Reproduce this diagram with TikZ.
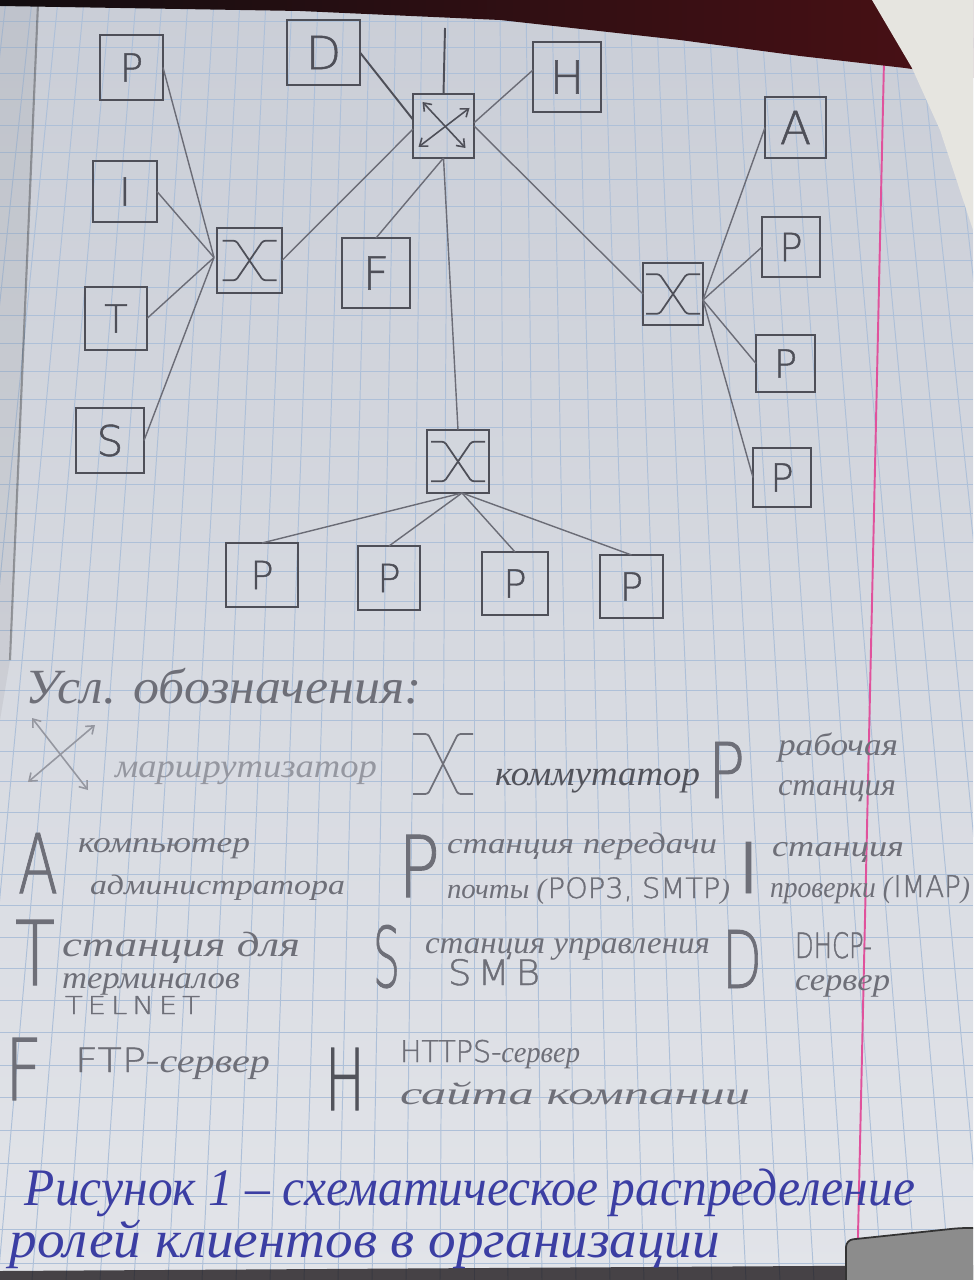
\documentclass[tikz,border=0pt]{standalone}
\usepackage{fontspec}
\usepackage{graphicx}
\setmainfont{Liberation Serif}
\newfontfamily\printfont[FakeBold=1.2]{DejaVu Sans ExtraLight}
\usetikzlibrary{calc,arrows.meta}

\newlength\px
\setlength\px{0.02cm}
% stretch a piece of text to a given width, keeping its height (px units)
\newcommand\fitx[2]{\resizebox{#1\px}{\height}{#2}}
% scale a piece of text to a given width and height (px units)
\newcommand\fitwh[3]{\resizebox{#1\px}{#2\px}{#3}}
\newcommand\ltr[1]{\printfont\fontsize{#1pt}{#1pt}\selectfont}
\newcommand\prt[1]{\textup{\printfont #1}}

\definecolor{paperTop}{HTML}{CACED7}
\definecolor{paperBot}{HTML}{E2E4E9}
\definecolor{gridc}{HTML}{AEC0D8}
\definecolor{marginc}{HTML}{E0529C}
\definecolor{pencil}{HTML}{4E4F58}
\definecolor{wirec}{HTML}{6B6C76}
\definecolor{legendc}{HTML}{6E6F78}
\definecolor{darkc}{HTML}{52535B}
\definecolor{faintc}{HTML}{9597A0}
\definecolor{inkc}{HTML}{3B3EA3}
\definecolor{deskc}{HTML}{120D10}
\definecolor{deskred}{HTML}{4A1015}
\definecolor{sheetc}{HTML}{E6E5E0}

\tikzset{
  gridline/.style={draw=gridc, line width=0.55pt},
  box/.style={draw=pencil, line width=1.25pt, inner sep=0pt, outer sep=0pt, text=pencil},
  sz/.style 2 args={minimum width=#1*0.02cm, minimum height=#2*0.02cm},
  wire/.style={draw=wirec, line width=0.8pt},
  strongwire/.style={draw=pencil, line width=1.1pt},
  fs/.style={font=\itshape\fontsize{#1pt}{#1pt}\selectfont},
  note/.style={inner sep=0pt, outer sep=0pt, anchor=base west, text=legendc, fs=#1},
  faint/.style={note=#1, text=faintc},
  dark/.style={note=#1, text=darkc},
  sym/.style={inner sep=0pt, outer sep=0pt, anchor=base west, text=legendc, font=\printfont},
  caption/.style={inner sep=0pt, outer sep=0pt, anchor=base west, text=inkc, fs=30},
  xsym/.pic={\draw[line width=1pt, rounded corners=1.5pt]
      (-30,-30) -- (-15,-30) -- (15,30) -- (30,30)
      (30,-30) -- (15,-30) -- (-15,30) -- (-30,30);},
  rarrow/.style={line width=0.9pt,
      {Straight Barb[length=4pt,width=6pt]}-{Straight Barb[length=4pt,width=6pt]}},
}

\begin{document}
\begin{tikzpicture}[x=0.02cm, y=-0.02cm]
\useasboundingbox (0,0) rectangle (973,1280);

% ---------- notebook page ----------
\begin{scope}
\clip (0,0) rectangle (973,1280);
\shade[top color=paperTop, bottom color=paperBot] (0,0) rectangle (973,1280);
% squared ruling
\foreach \k in {-3,...,46} {
  \pgfmathsetmacro\yy{47+4160*(exp(0.00625*\k)-1)}
  \draw[gridline] (0,\yy) -- (973,\yy);
}
\foreach \i in {-20,...,22} {
  \draw[gridline] ({474+26*\i},0) -- ({474+34*\i},1280);
}
% margin line
\draw[marginc, line width=1.1pt] (884,60) -- (857,1280);
% page beneath, on the left
\fill[black, opacity=0.05] (0,0) -- (38,0) -- (10,660) -- (0,720) -- cycle;
\draw[black, opacity=0.3, line width=1.2pt] (38,4) -- (10,660);
% desk at the top
\shade[left color=deskc, right color=deskred]
  (0,0) -- (973,0) -- (973,78) -- (905,68) -- (800,56) -- (680,40)
  -- (500,20) -- (300,11) -- (0,6) -- cycle;
% folded sheet in the corner
\fill[sheetc] (872,0) -- (973,0) -- (973,230) -- (940,130) -- (912,68) -- cycle;
% bottom edge and cover corner
\fill[deskc, opacity=0.75] (0,1271) -- (973,1265) -- (973,1280) -- (0,1280) -- cycle;
\draw[fill=black!45, draw=black!80, line width=1pt, rounded corners=4pt]
  (846,1240) -- (960,1228) -- (980,1228) -- (980,1290) -- (846,1290) -- cycle;
\end{scope}

% ---------- network ----------
\node[box, sz={63}{65}, font=\ltr{22}] (pa) at (131.5,67.5) {P};
\node[box, sz={64}{61}, font=\ltr{22}] (im) at (125,191.5) {I};
\node[box, sz={62}{63}, font=\ltr{22}] (te) at (116,318.5) {T};
\node[box, sz={68}{65}, font=\ltr{24}] (sm) at (110,440.5) {S};
\node[box, sz={65}{65}] (swl) at (249.5,260.5) {};
\node[box, sz={73}{65}, font=\ltr{26}] (dh) at (323.5,52.5) {D};
\node[box, sz={61}{64}] (rt) at (443.5,126) {};
\node[box, sz={68}{70}, font=\ltr{26}] (ht) at (567,77) {H};
\node[box, sz={68}{70}, font=\ltr{26}] (ft) at (376,273) {F};
\node[box, sz={60}{62}] (swr) at (673,294) {};
\node[box, sz={61}{61}, font=\ltr{26}] (ad) at (795.5,127.5) {A};
\node[box, sz={58}{60}, font=\ltr{22}] (pr1) at (791,247) {P};
\node[box, sz={59}{57}, font=\ltr{22}] (pr2) at (785.5,363.5) {P};
\node[box, sz={58}{59}, font=\ltr{22}] (pr3) at (782,477.5) {P};
\node[box, sz={62}{63}] (swb) at (458,461.5) {};
\node[box, sz={72}{64}, font=\ltr{22}] (pb1) at (262,575) {P};
\node[box, sz={62}{64}, font=\ltr{22}] (pb2) at (389,578) {P};
\node[box, sz={66}{63}, font=\ltr{22}] (pb3) at (515,583.5) {P};
\node[box, sz={63}{63}, font=\ltr{22}] (pb4) at (631.5,586.5) {P};

% switch marks and router arrows
\foreach \s in {swl,swr,swb}
  \pic[draw=pencil, xscale=0.9, yscale=0.66] at (\s) {xsym};
\draw[rarrow, draw=pencil] ($(rt.center)+(-21,-24)$) -- ($(rt.center)+(22,22)$);
\draw[rarrow, draw=pencil] ($(rt.center)+(26,-18)$) -- ($(rt.center)+(-25,21)$);

% links
\foreach \n in {pa,im,te,sm} \draw[wire] (\n.east) -- ($(swl.west)+(-3,-3)$);
\draw[wire] (swl.east) -- ($(rt.north west)!0.55!(rt.south west)$);
\draw[strongwire] (dh.east) -- ($(rt.north west)!0.4!(rt.south west)$);
\coordinate (uplink) at (445,28);
\draw[strongwire] (rt.north) -- (uplink);
\draw[wire] (ft.north) -- (rt.south);
\draw[wire] (rt.south) -- (swb.north);
\draw[wire] ($(rt.north east)!0.45!(rt.south east)$) -- ($(ht.north west)!0.4!(ht.south west)$);
\draw[wire] ($(rt.north east)!0.5!(rt.south east)$) -- (swr.west);
\foreach \n in {ad,pr1,pr2,pr3} \draw[wire] ($(swr.east)+(0,6)$) -- (\n.west);
\foreach \n in {pb1,pb2,pb3,pb4} \draw[wire] ($(swb.south)+(4,0)$) -- (\n.north);

% ---------- legend ----------
\node[note=28] (lt) at (25,703) {\fitx{397}{Усл. обозначения:}};

\draw[rarrow, draw=faintc] (32,718) -- (88,790);
\draw[rarrow, draw=faintc] (95,725) -- (28,782);
\node[faint=19] (l1) at (115,777) {\fitx{262}{маршрутизатор}};
\pic[draw=legendc] at (443,764) {xsym};
\node[dark=20] (l2) at (495,785) {\fitx{205}{коммутатор}};
\node[sym] (s1) at (708,798) {\fitwh{37}{56}{P}};
\node[note=18] (l3a) at (778,755) {\fitx{120}{рабочая}};
\node[note=18] (l3b) at (778,795) {\fitx{118}{станция}};

\node[sym] (s2) at (18,893) {\fitwh{40}{60}{A}};
\node[note=17] (l4a) at (78,852) {\fitx{172}{компьютер}};
\node[note=16] (l4b) at (90,894) {\fitx{255}{администратора}};
\node[sym] (s3) at (398,897) {\fitwh{42}{62}{P}};
\node[note=17] (l5a) at (447,853) {\fitx{270}{станция передачи}};
\node[note=16] (l5b) at (447,898) {\fitx{283}{почты (\prt{POP3, SMTP})}};
\node[sym] (s4) at (735,893) {\fitwh{27}{51}{I}};
\node[note=17] (l6a) at (772,856) {\fitx{132}{станция}};
\node[note=17] (l6b) at (770,897) {\fitx{200}{проверки (\prt{IMAP})}};

\node[sym] (s5) at (15,985) {\fitwh{40}{65}{T}};
\node[note=20] (l7a) at (62,956) {\fitx{238}{станция для}};
\node[note=18] (l7b) at (62,988) {\fitx{178}{терминалов}};
\node[sym] (l7c) at (65,1014) {\fitwh{135}{18}{T\,E\,L\,N\,E\,T}};
\node[sym] (s6) at (373,987) {\fitwh{27}{62}{S}};
\node[note=18] (l8a) at (425,953) {\fitx{285}{станция управления}};
\node[sym] (l8b) at (448,985) {\fitwh{92}{26}{S\,M\,B}};
\node[sym] (s7) at (722,988) {\fitwh{40}{58}{D}};
\node[sym] (l9a) at (795,958) {\fitwh{77}{26}{DHCP-}};
\node[note=18] (l9b) at (795,990) {\fitx{95}{сервер}};

\node[sym] (s8) at (5,1100) {\fitwh{37}{62}{F}};
\node[note=19] (l10) at (75,1072) {\fitx{195}{\prt{FTP-}сервер}};
\node[sym, text=darkc] (s9) at (325,1110) {\fitwh{40}{62}{H}};
\node[note=17] (l11a) at (400,1062) {\fitx{180}{\prt{HTTPS-}сервер}};
\node[note=18] (l11b) at (400,1104) {\fitx{350}{сайта компании}};

% ---------- caption ----------
\node[caption] (c1) at (25,1205) {\fitx{890}{Рисунок 1 – схематическое распределение}};
\node[caption] (c2) at (10,1257) {\fitx{710}{ролей клиентов в организации}};
\end{tikzpicture}
\end{document}
